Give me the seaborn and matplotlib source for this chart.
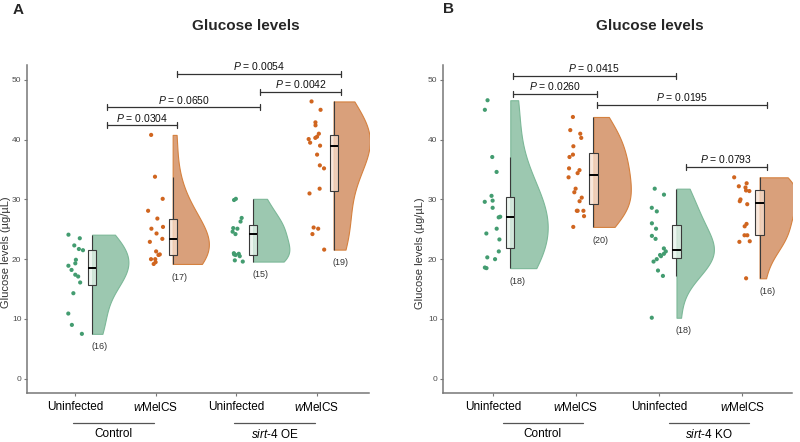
import numpy as np
import pandas as pd
import matplotlib
matplotlib.use("Agg")
import matplotlib.pyplot as plt
import matplotlib.transforms as mtransforms
import seaborn as sns

# ---------------- data ----------------
categories = ["Uninfected", "wMelCS", "Uninfected", "wMelCS"]
tick_labels = ["Uninfected", r"$\it{w}$MelCS", "Uninfected", r"$\it{w}$MelCS"]
genotypes_a = ["Control", r"$\it{sirt}$-$\it{4}$ OE"]
genotypes_b = ["Control", r"$\it{sirt}$-$\it{4}$ KO"]
title = "Glucose levels"
ylabel = "Glucose levels (µg/µL)"

a_ctrl_uninf = [24.1, 23.5, 22.3, 21.7, 21.5, 19.9, 19.3, 18.9, 18.2, 17.4, 17.1, 16.1, 14.3, 10.9, 9.0, 7.5]
a_ctrl_wmel = [40.8, 33.8, 30.1, 28.1, 26.8, 25.4, 25.1, 24.3, 23.4, 22.9, 21.3, 20.8, 20.7, 20.0, 20.0, 19.5, 19.2]
a_oe_uninf = [30.1, 29.9, 26.9, 26.3, 25.2, 25.1, 24.6, 24.2, 21.0, 20.9, 20.8, 20.7, 20.5, 19.8, 19.6]
a_oe_wmel = [46.4, 45.0, 42.9, 42.4, 41.0, 40.5, 40.3, 40.1, 39.5, 39.0, 37.5, 35.7, 35.2, 31.8, 31.0, 25.3, 25.1, 24.2, 21.6]

b_ctrl_uninf = [46.6, 45.0, 37.1, 34.6, 30.6, 29.8, 29.6, 28.6, 27.1, 27.0, 25.1, 24.3, 23.3, 21.3, 20.3, 20.0, 18.6, 18.5]
b_ctrl_wmel = [43.8, 41.6, 41.0, 40.3, 38.9, 37.5, 37.1, 35.2, 34.9, 34.4, 33.7, 31.8, 31.2, 30.3, 29.7, 28.1, 28.1, 28.1, 27.2, 25.4]
b_ko_uninf = [31.8, 30.8, 28.6, 28.0, 26.0, 25.1, 23.9, 23.4, 21.8, 21.3, 20.9, 20.7, 20.5, 20.0, 19.6, 18.1, 17.2, 10.2]
b_ko_wmel = [33.7, 32.7, 32.2, 32.0, 31.5, 31.4, 30.0, 29.7, 29.2, 25.9, 25.5, 24.0, 24.0, 23.0, 22.9, 16.8]

a_pairs = [(0, 1), (0, 2), (2, 3), (1, 3)]
a_pvals = ["0.0304", "0.0650", "0.0042", "0.0054"]
b_pairs = [(0, 2), (0, 1), (1, 3), (2, 3)]
b_pvals = ["0.0415", "0.0260", "0.0195", "0.0793"]

# ---------------- style / layout ----------------
NUDGE = 0.21
fill_pal = {"Uninfected": "#9cc8b0", "wMelCS": "#d9a07b"}
edge_pal = {"Uninfected": "#7cb898", "wMelCS": "#d5813f"}
box_pal = {"Uninfected": "#e6f2ea", "wMelCS": "#f6e0d0"}
pt_pal = {"Uninfected": "#439c70", "wMelCS": "#d0651f"}
# bracket geometry: (start offset, end offset, y level)
a_geom = [(0.40, 0.26, 42.4), (0.40, 0.30, 45.4), (0.30, 0.30, 48.0), (0.26, 0.30, 51.0)]
b_geom = [(0.24, 0.20, 50.7), (0.24, 0.25, 47.7), (0.25, 0.30, 45.8), (0.32, 0.30, 35.5)]

sns.set_theme(style="ticks")
plt.rcParams["font.family"] = ["Liberation Sans", "DejaVu Sans"]
plt.rcParams["mathtext.fontset"] = "custom"
plt.rcParams["mathtext.rm"] = "Liberation Sans"
plt.rcParams["mathtext.it"] = "Liberation Sans:italic"

W, H = 800, 442
fig = plt.figure(figsize=(8, 4.42), dpi=100)
axA = fig.add_axes([27 / W, 1 - 393 / H, 342 / W, 328 / H])
axB = fig.add_axes([443 / W, 1 - 393 / H, 349 / W, 328 / H])


def make_df(groups):
    rows = []
    for i, vals in enumerate(groups):
        for v in vals:
            rows.append({"group": i, "infection": categories[i], "value": v})
    df = pd.DataFrame(rows)
    df["pos"] = df["group"] + NUDGE
    return df


def draw_panel(ax, groups, pairs, pvals, geom, genotypes, xmax, under_off, seed):
    df = make_df(groups)
    order = ["Uninfected", "wMelCS"]
    n0 = len(ax.collections)
    sns.violinplot(data=df, x="pos", y="value", hue="infection", hue_order=order,
                   palette=fill_pal, native_scale=True, dodge=False, cut=0,
                   inner=None, density_norm="width", width=0.9, bw_adjust=1.2,
                   linewidth=0.8, saturation=1, legend=False, ax=ax)
    for coll in ax.collections[n0:]:
        paths = coll.get_paths()
        if not paths:
            continue
        allv = np.concatenate([p.vertices for p in paths])
        c = (allv[:, 0].min() + allv[:, 0].max()) / 2
        verts = [np.column_stack([np.maximum(p.vertices[:, 0], c), p.vertices[:, 1]]) for p in paths]
        coll.set_verts(verts)
        gi = int(round(c - NUDGE))
        coll.set_edgecolor(edge_pal[categories[gi]])
        coll.set_facecolor(fill_pal[categories[gi]])

    p0 = len(ax.patches)
    sns.boxplot(data=df, x="pos", y="value", hue="infection", hue_order=order,
                palette=box_pal, native_scale=True, dodge=False, width=0.1,
                showfliers=False, showcaps=False, linecolor="#3a3a3a", linewidth=0.8,
                medianprops=dict(color="black", linewidth=1.4), saturation=1,
                legend=False, ax=ax)
    for p in ax.patches[p0:]:
        fc = p.get_facecolor()
        p.set_facecolor((fc[0], fc[1], fc[2], 0.75))

    np.random.seed(seed)
    sns.stripplot(data=df, x="group", y="value", hue="infection", hue_order=order,
                  palette=pt_pal, native_scale=True, dodge=False, jitter=0.1,
                  size=3.0, linewidth=0, legend=False, ax=ax, zorder=4)

    for i, vals in enumerate(groups):
        ax.text(i + 0.3, min(vals) - 2.2, f"({len(vals)})", ha="center", va="center",
                fontsize=6.5, color="#333333")

    for (gi, gj), p, (o1, o2, y) in zip(pairs, pvals, geom):
        x1, x2 = gi + o1, gj + o2
        ax.plot([x1, x2], [y, y], color="#333333", lw=0.9, clip_on=False, zorder=5)
        for xx in (x1, x2):
            ax.plot([xx, xx], [y - 0.5, y + 0.5], color="#333333", lw=0.9, clip_on=False, zorder=5)
        ax.text((x1 + x2) / 2, y + 0.3, r"$\it{P}$ = " + p, ha="center", va="bottom",
                fontsize=7.5, color="#111111")

    ax.set_xlim(-0.6, xmax)
    ax.set_ylim(-2.4, 52.5)
    ax.set_yticks([0, 10, 20, 30, 40, 50])
    ax.set_xticks(range(4))
    ax.set_xticklabels(tick_labels)
    ax.set_xlabel("")
    ax.set_ylabel("")
    for s in ("top", "right"):
        ax.spines[s].set_visible(False)
    for s in ("left", "bottom"):
        ax.spines[s].set_color("#777777")
        ax.spines[s].set_linewidth(1.1)
    ax.tick_params(axis="y", labelsize=6, labelcolor="#4d4d4d", color="#777777",
                   length=2.5, width=0.8, pad=1.5)
    ax.tick_params(axis="x", labelsize=8.5, labelcolor="black", color="#777777",
                   length=2.5, width=0.8, pad=3)

    tr = mtransforms.blended_transform_factory(ax.transData, fig.transFigure)
    for k, g in enumerate(genotypes):
        xa, xb = 2 * k + under_off[0], 2 * k + 1 + under_off[1]
        ax.plot([xa, xb], [1 - 422.7 / H] * 2, transform=tr, color="#555555",
                lw=0.9, clip_on=False)
        ax.text((xa + xb) / 2, 1 - 434 / H, g, transform=tr, ha="center",
                va="center", fontsize=8.5, color="black")


draw_panel(axA, [a_ctrl_uninf, a_ctrl_wmel, a_oe_uninf, a_oe_wmel],
           a_pairs, a_pvals, a_geom, genotypes_a, 3.65, (-0.03, -0.02), 7)
draw_panel(axB, [b_ctrl_uninf, b_ctrl_wmel, b_ko_uninf, b_ko_wmel],
           b_pairs, b_pvals, b_geom, genotypes_b, 3.6, (0.12, 0.08), 11)

fig.text(246 / W, 1 - 26 / H, title, ha="center", va="center", fontsize=11, fontweight="bold")
fig.text(650 / W, 1 - 26 / H, title, ha="center", va="center", fontsize=11, fontweight="bold")
fig.text(18 / W, 1 - 10 / H, "A", ha="center", va="center", fontsize=11, fontweight="bold")
fig.text(448 / W, 1 - 9 / H, "B", ha="center", va="center", fontsize=11, fontweight="bold")
fig.text(6.5 / W, 1 - 252 / H, ylabel, rotation=90, ha="center", va="center", fontsize=8, color="#333333")
fig.text(420 / W, 1 - 253 / H, ylabel, rotation=90, ha="center", va="center", fontsize=8, color="#333333")

fig.savefig("out.png", dpi=100)
